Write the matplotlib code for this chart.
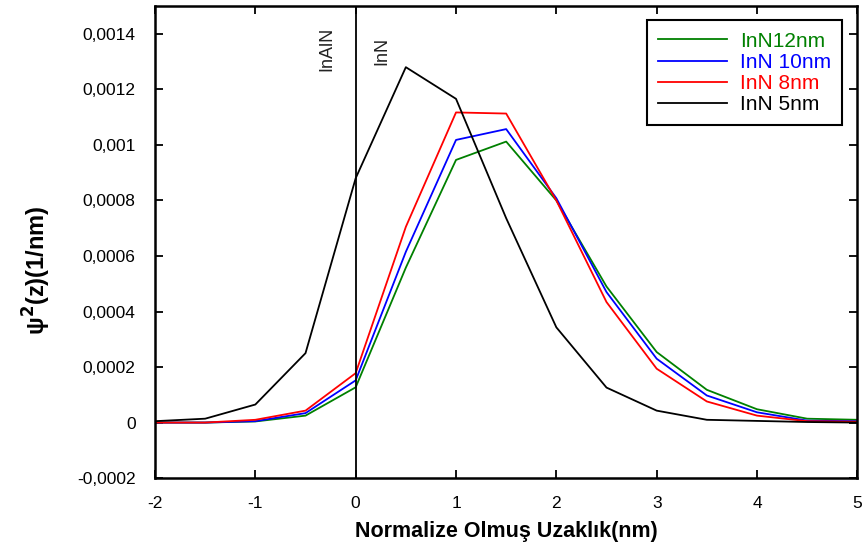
import matplotlib
matplotlib.use("Agg")
import matplotlib.pyplot as plt
from matplotlib.ticker import FuncFormatter

plt.rcParams['font.family'] = ['Liberation Sans', 'DejaVu Sans']
plt.rcParams['axes.unicode_minus'] = False

# normalized distance (nm)
z = [-2, -1.5, -1, -0.5, 0, 0.5, 1, 1.5, 2, 2.5, 3, 3.5, 4, 4.5, 5]

psi_12nm = [0, 0, 0.000004, 0.000025, 0.000127, 0.000558, 0.000946, 0.001012,
            0.00080, 0.00049, 0.000254, 0.000118, 0.000048, 0.000014, 0.00001]
psi_10nm = [0, 0, 0.000005, 0.000034, 0.000152, 0.000615, 0.001018, 0.001057,
            0.000808, 0.00047, 0.00023, 0.0000975, 0.000037, 0.000007, 0.000005]
psi_8nm = [0, 0, 0.00001, 0.000043, 0.000178, 0.000705, 0.001117, 0.001113,
           0.00080, 0.000434, 0.000194, 0.000076, 0.000025, 0.000005, 0.000003]
psi_5nm = [0.000005, 0.000014, 0.000065, 0.00025, 0.00088, 0.00128, 0.001166, 0.000736,
           0.000343, 0.000126, 0.000043, 0.00001, 0.000006, 0.000002, 0]

fig = plt.figure(figsize=(8.66, 5.54), dpi=100)
ax = fig.add_axes([0.179, 0.137, 0.811, 0.852])

ax.plot(z, psi_12nm, color='#008000', lw=1.3, label='InN12nm')
ax.plot(z, psi_10nm, color='#0000ff', lw=1.3, label='InN 10nm')
ax.plot(z, psi_8nm, color='#ff0000', lw=1.3, label='InN 8nm')
ax.plot(z, psi_5nm, color='black', lw=1.3, label='InN 5nm')

ax.axvline(0, color='black', lw=1.3)
ax.text(-0.29, 0.001425, 'InAlN', rotation=90, fontsize=13, ha='center', va='top', color='#222222')
ax.text(0.26, 0.00139, 'InN', rotation=90, fontsize=13, ha='center', va='top', color='#222222')

ax.set_xlim(-2, 5)
ax.set_ylim(-0.0002, 0.0015)
ax.set_xticks(range(-2, 6))
ax.set_yticks([-0.0002, 0, 0.0002, 0.0004, 0.0006, 0.0008, 0.001, 0.0012, 0.0014])
ax.yaxis.set_major_formatter(FuncFormatter(lambda v, p: '0' if abs(v) < 1e-12 else ('%g' % v).replace('.', ',')))
ax.tick_params(direction='in', top=True, right=True, length=6, width=1.3, labelsize=12.5)
ax.tick_params(axis='x', pad=13)
ax.tick_params(axis='y', pad=14)
for s in ax.spines.values():
    s.set_linewidth(1.8)

ax.set_xlabel('Normalize Olmuş Uzaklık(nm)', fontsize=15.5, fontweight='bold', labelpad=7)
ax.set_ylabel('ψ$^{\\mathbf{2}}$(z)(1/nm)', fontsize=17, fontweight='bold')
ax.yaxis.set_label_coords(-0.145, 0.44)

leg = ax.legend(loc='upper right', bbox_to_anchor=(0.9786, 0.970), borderaxespad=0,
                fontsize=15, handlelength=3.3, fancybox=False, framealpha=1,
                edgecolor='black', borderpad=0.55, labelspacing=0.1, handletextpad=0.6)
leg.get_frame().set_linewidth(1.5)
for t, l in zip(leg.get_texts(), leg.get_lines()):
    t.set_color(l.get_color())

fig.savefig('out.png', dpi=100)
